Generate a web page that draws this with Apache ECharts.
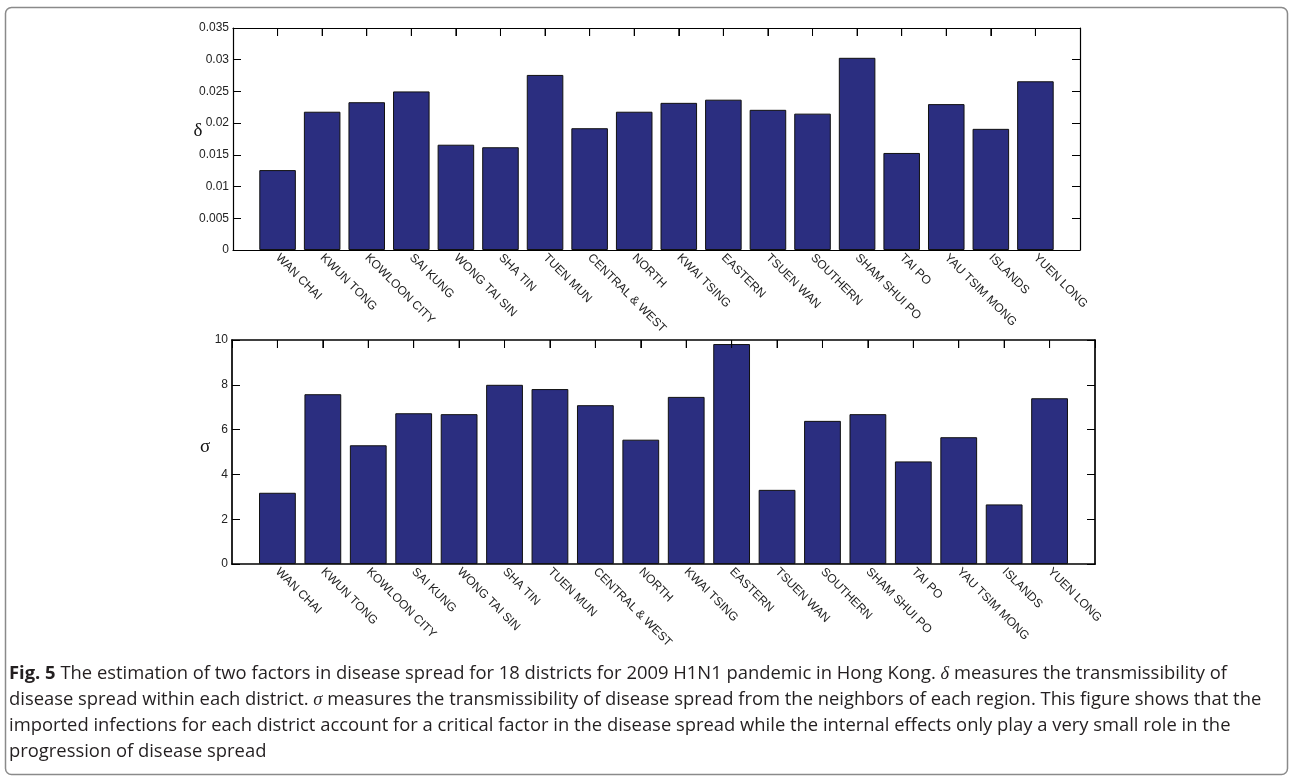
<!DOCTYPE html>
<html>
<head>
<meta charset="utf-8">
<script src="https://cdn.jsdelivr.net/npm/echarts@6/dist/echarts.min.js"></script>
<style>
  html, body { margin: 0; padding: 0; background: #fff; }
  #main { width: 1289px; height: 777px; }
</style>
</head>
<body>
<div id="main"></div>
<script>
// districts in plot order
var districts = ['WAN CHAI', 'KWUN TONG', 'KOWLOON CITY', 'SAI KUNG', 'WONG TAI SIN', 'SHA TIN',
    'TUEN MUN', 'CENTRAL & WEST', 'NORTH', 'KWAI TSING', 'EASTERN', 'TSUEN WAN', 'SOUTHERN',
    'SHAM SHUI PO', 'TAI PO', 'YAU TSIM MONG', 'ISLANDS', 'YUEN LONG'];

// delta - within-district transmissibility
var deltaValues = [0.0126, 0.0218, 0.0233, 0.0250, 0.0166, 0.0162, 0.0276, 0.0192, 0.0218,
    0.0232, 0.0237, 0.0221, 0.0215, 0.0303, 0.0153, 0.0230, 0.0191, 0.0266];

// sigma - imported transmissibility
var sigmaValues = [3.18, 7.58, 5.30, 6.73, 6.69, 8.00, 7.81, 7.09, 5.55,
    7.46, 9.82, 3.31, 6.39, 6.69, 4.58, 5.66, 2.66, 7.40];

var deltaTicks = {min: 0, max: 0.035, interval: 0.005};
var sigmaTicks = {min: 0, max: 10, interval: 2};

var captionLines = [
    '{b|Fig. 5} The estimation of two factors in disease spread for 18 districts for 2009 H1N1 pandemic in Hong Kong. {g|δ} measures the transmissibility of',
    'disease spread within each district. {g|σ} measures the transmissibility of disease spread from the neighbors of each region. This figure shows that the',
    'imported infections for each district account for a critical factor in the disease spread while the internal effects only play a very small role in the',
    'progression of disease spread'
];

// matlab style: xlim [0, 19] -> pad categories with empty slots
var cats = [''].concat(districts).concat(['']);
function pad(arr) {
    return [null].concat(arr).concat([null]);
}

var barColor = '#2b2e80';
var txt = '#222';

function xAxes(gridIndex, lw) {
    return [{
        type: 'category', gridIndex: gridIndex, data: cats, boundaryGap: false, position: 'bottom',
        axisLine: {onZero: false, lineStyle: {color: '#000', width: lw}},
        // bottom ticks sit behind the bars anyway
        axisTick: {show: false},
        axisLabel: {interval: 0, rotate: -45, margin: 6, color: txt, fontSize: 12,
            fontFamily: 'Liberation Sans, Arial, sans-serif'},
        splitLine: {show: false}
    }, {
        type: 'value', gridIndex: gridIndex, min: 0, max: cats.length - 1, interval: 1, position: 'top',
        axisLine: {show: true, onZero: false, lineStyle: {color: '#000', width: lw}},
        axisTick: {show: true, inside: true, length: 8, lineStyle: {color: '#000'}},
        axisLabel: {show: false},
        splitLine: {show: false}
    }];
}

function yAxes(gridIndex, t, lw) {
    return [{
        type: 'value', gridIndex: gridIndex, min: t.min, max: t.max, interval: t.interval,
        axisLine: {show: true, onZero: false, lineStyle: {color: '#000', width: lw}},
        axisTick: {show: true, inside: true, length: 8, lineStyle: {color: '#000'}},
        axisLabel: {color: txt, fontSize: 12, margin: 4, fontFamily: 'Liberation Sans, Arial, sans-serif'},
        splitLine: {show: false}
    }, {
        type: 'value', gridIndex: gridIndex, min: t.min, max: t.max, interval: t.interval, position: 'right',
        axisLine: {show: true, onZero: false, lineStyle: {color: '#000', width: lw}},
        axisTick: {show: true, inside: true, length: 8, lineStyle: {color: '#000'}},
        axisLabel: {show: false},
        splitLine: {show: false}
    }];
}

var graphics = [{
    id: 'frame', type: 'rect', left: 3, top: 5, silent: true,
    shape: {width: 1282, height: 767, r: 6},
    style: {fill: 'none', stroke: '#8a8a8a', lineWidth: 1.5}
}, {
    // y labels (upright greek letters, like the figure)
    id: 'ylab0', type: 'text', x: 198, y: 131, silent: true,
    style: {text: 'δ', fill: '#111', align: 'center', verticalAlign: 'middle', font: '19px "Liberation Serif", serif'}
}, {
    id: 'ylab1', type: 'text', x: 205, y: 447, silent: true,
    style: {text: 'σ', fill: '#111', align: 'center', verticalAlign: 'middle', font: '19px "Liberation Serif", serif'}
}];
captionLines.forEach(function (line, i) {
    graphics.push({
        id: 'cap' + i, type: 'text', x: 9, y: 674 + i * 26,
        style: {
            text: line, fill: '#231f20', verticalAlign: 'middle',
            font: '18.4px "Open Sans", sans-serif',
            rich: {
                b: {fontWeight: 'bold', fontSize: 18.4, fontFamily: 'Open Sans', fill: '#231f20'},
                g: {fontStyle: 'italic', fontSize: 18.4, fontFamily: 'Liberation Serif', fill: '#231f20'}
            }
        }
    });
});

var myChart = echarts.init(document.getElementById('main'));
var option = {
    animation: false,
    backgroundColor: '#fff',
    grid: [
        {left: 233, top: 28, width: 847, height: 222},
        {left: 232, top: 340, width: 863, height: 224}
    ],
    xAxis: xAxes(0, 1.2).concat(xAxes(1, 1.7)),
    yAxis: yAxes(0, deltaTicks, 1.2).concat(yAxes(1, sigmaTicks, 1.7)),
    series: [{
        type: 'bar', xAxisIndex: 0, yAxisIndex: 0, data: pad(deltaValues), barWidth: '82%',
        itemStyle: {color: barColor, borderColor: '#111', borderWidth: 1}
    }, {
        type: 'bar', xAxisIndex: 2, yAxisIndex: 2, data: pad(sigmaValues), barWidth: '81%',
        itemStyle: {color: barColor, borderColor: '#111', borderWidth: 1}
    }],
    graphic: graphics
};
myChart.setOption(option);

// top-edge tick marks: positions taken from the chart's own scales
var tickLines = [];
[[0, 0, deltaTicks], [2, 2, sigmaTicks]].forEach(function (cfg, g) {
    districts.forEach(function (d, i) {
        var p = myChart.convertToPixel({xAxisIndex: cfg[0], yAxisIndex: cfg[1]}, [d, cfg[2].max]);
        if (!p) return;
        tickLines.push({
            id: 'tick' + g + '_' + i, type: 'line', silent: true, z: 100,
            shape: {x1: p[0], y1: p[1], x2: p[0], y2: p[1] + 8},
            style: {stroke: '#000', lineWidth: 1}
        });
    });
});
myChart.setOption({graphic: graphics.concat(tickLines)});
</script>
</body>
</html>
